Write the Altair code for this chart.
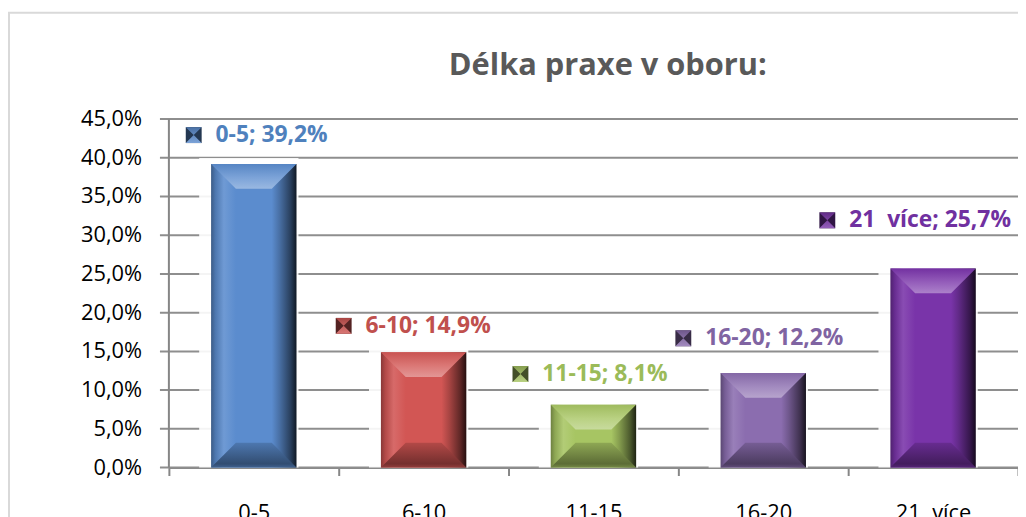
import altair as alt
import pandas as pd

# ---- data ----
categories = ["0-5", "6-10", "11-15", "16-20", "21  více"]
values = [39.2, 14.9, 8.1, 12.2, 25.7]
title_text = "Délka praxe v oboru:"
y_ticks = [0, 5, 10, 15, 20, 25, 30, 35, 40, 45]
y_tick_labels = ["0,0%", "5,0%", "10,0%", "15,0%", "20,0%", "25,0%",
                 "30,0%", "35,0%", "40,0%", "45,0%"]

# ---- styles ----
face_colors = ["#5b8cce", "#d25654", "#a7c563", "#8b6daf", "#7934a9"]
label_colors = ["#4f81bd", "#c0504d", "#9bbb59", "#8064a2", "#7030a0"]
# pixel offsets of each label's marker from the bar's top centre
label_dx = [-60.5, -80.5, -73.5, -80.5, -106.5]
label_dy = [-29, -26.5, -31, -35, -48.5]

FONT = "Open Sans"
BAR_W = 86
W, H = 855, 351
AXIS_GREY = "#868686"


def mix(c1, c2, t):
    a = [int(c1[i:i + 2], 16) for i in (1, 3, 5)]
    b = [int(c2[i:i + 2], 16) for i in (1, 3, 5)]
    return "#" + "".join(f"{round(x + (y - x) * t):02x}" for x, y in zip(a, b))


def tint(c, t):
    return mix(c, "#ffffff", t)


def shade(c, t):
    return mix(c, "#000000", t)


def grad(stops, horizontal=True):
    return alt.Gradient(
        gradient="linear",
        stops=[alt.GradientStop(offset=o, color=c) for o, c in stops],
        x1=0, y1=0, x2=1 if horizontal else 0, y2=0 if horizontal else 1,
    )


NBSP = "\u00a0"
df = pd.DataFrame({"cat": categories, "val": values})
df["label"] = [
    f"{c}; {v:.1f}%".replace(".", ",").replace("  ", " " + NBSP)
    for c, v in zip(categories, values)
]
ydf = pd.DataFrame({"v": y_ticks, "lab": y_tick_labels})

x_axis = alt.Axis(
    title=None, labelAngle=0, labelFont=FONT, labelFontSize=22, labelColor="#000000",
    labelPadding=27, domainColor=AXIS_GREY, domainWidth=2, tickColor=AXIS_GREY,
    tickWidth=2, tickSize=8, tickBand="extent", grid=False,
    labelExpr="replace(datum.label, '  ', ' " + NBSP + "')",
)
x_enc = alt.X(
    "cat:N", sort=categories,
    scale=alt.Scale(domain=categories, paddingInner=0, paddingOuter=0),
    axis=x_axis,
)
y_scale = alt.Scale(domain=[0, 45], nice=False, zero=True)
y_enc = alt.Y("val:Q", scale=y_scale, axis=None)
y_zero = alt.Y(datum=0, scale=y_scale, axis=None)

base = alt.Chart(df).encode(x=x_enc, y=y_enc)

one = pd.DataFrame({"t": [title_text]})
frame = alt.Chart(one).mark_rect(fillOpacity=0, stroke="#d9d9d9", strokeWidth=2).encode(
    x=alt.value(-161), x2=alt.value(900), y=alt.value(-107), y2=alt.value(450)
)
title = alt.Chart(one).mark_text(
    font=FONT, fontWeight="bold", fontSize=31, color="#595959", align="center",
    baseline="alphabetic",
).encode(x=alt.value(442), y=alt.value(-44), text="t:N")

# value axis: grid lines (with their ticks), axis line and labels
ybase = alt.Chart(ydf).encode(y=alt.Y("v:Q", scale=y_scale, axis=None))
grid = ybase.mark_rule(color="#8e8e8e", strokeWidth=2).encode(x=alt.value(-9), x2=alt.value(W))
ydomain = alt.Chart(one).mark_rule(color=AXIS_GREY, strokeWidth=2).encode(
    x=alt.value(0), y=alt.value(0), y2=alt.value(H)
)
ylabels = ybase.mark_text(
    font=FONT, fontSize=22, color="#000000", align="right", baseline="middle"
).encode(x=alt.value(-27), text="lab:N")

halo = base.mark_bar(size=BAR_W + 14, xOffset=-5, yOffset=-6, color="#ffffff", opacity=0.9).encode(
    y2=alt.datum(0)
)

layers = [frame, grid, ydomain, ylabels, halo]

TOP_PATH = "M-1,-1L1,-1L0.42,-0.42L-0.42,-0.42Z"
BOT_PATH = "M-1,1L1,1L0.42,0.42L-0.42,0.42Z"
BOWTIE = "M-1,-1L1,-1L0,0ZM-1,1L1,1L0,0Z"
half = BAR_W / 2

for i, cat in enumerate(categories):
    f = face_colors[i]
    sub = base.transform_filter(alt.datum.cat == cat)
    main = sub.mark_bar(
        size=BAR_W,
        fill=grad([
            (0.0, shade(f, 0.35)), (0.05, shade(f, 0.15)), (0.15, tint(f, 0.12)),
            (0.29, f), (0.71, f), (0.80, shade(f, 0.2)), (0.93, shade(f, 0.55)),
            (1.0, shade(f, 0.82)),
        ]),
    ).encode(y2=alt.datum(0))
    top = sub.mark_point(
        shape=TOP_PATH, size=BAR_W * BAR_W, filled=True, opacity=1, strokeOpacity=0,
        yOffset=half,
        fill=grad([(0.0, shade(f, 0.05)), (0.55, tint(f, 0.2)), (1.0, tint(f, 0.38))], horizontal=False),
    )
    bot = sub.mark_point(
        shape=BOT_PATH, size=BAR_W * BAR_W, filled=True, opacity=1, strokeOpacity=0,
        yOffset=-half,
        fill=grad([(0.0, shade(f, 0.15)), (0.85, shade(f, 0.45)), (1.0, shade(f, 0.3))], horizontal=False),
    ).encode(y=y_zero)
    msq = sub.mark_point(
        shape="square", size=256, filled=True, opacity=1, strokeOpacity=0,
        xOffset=label_dx[i], yOffset=label_dy[i], fill=shade(f, 0.6),
    )
    mbt = sub.mark_point(
        shape=BOWTIE, size=256, filled=True, opacity=1, strokeOpacity=0,
        xOffset=label_dx[i], yOffset=label_dy[i],
        fill=grad([(0.0, shade(f, 0.2)), (1.0, tint(f, 0.2))], horizontal=False),
    )
    txt = sub.mark_text(
        font=FONT, fontWeight="bold", fontSize=23, color=label_colors[i], align="left",
        baseline="middle", dx=label_dx[i] + 22, dy=label_dy[i],
    ).encode(text="label:N")
    layers += [main, top, bot, msq, mbt, txt]

layers.append(title)

chart = alt.layer(*layers).properties(
    width=W, height=H,
    padding={"left": 162, "top": 110, "right": 0, "bottom": 48},
    autosize=alt.AutoSizeParams(type="none"),
).configure_view(stroke=None).configure(background="#ffffff")

chart.save("out.html", embed_options={"renderer": "svg", "actions": False})
